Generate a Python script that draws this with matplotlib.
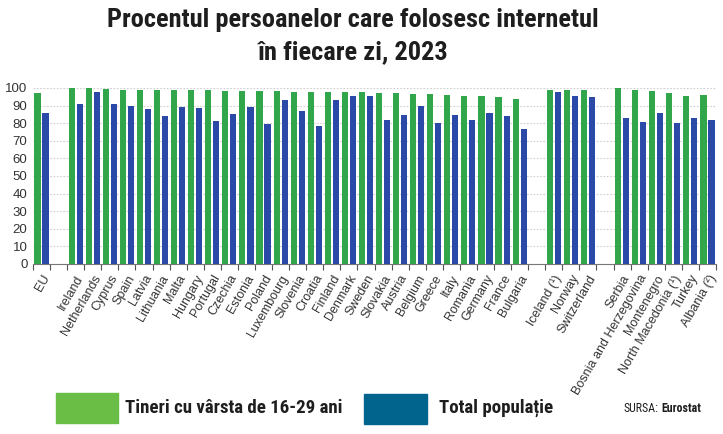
import matplotlib
matplotlib.use("Agg")
import matplotlib.pyplot as plt
from matplotlib.patches import Rectangle

# --- data ---
countries = ["EU", "",
             "Ireland", "Netherlands", "Cyprus", "Spain", "Latvia", "Lithuania",
             "Malta", "Hungary", "Portugal", "Czechia", "Estonia", "Poland",
             "Luxembourg", "Slovenia", "Croatia", "Finland", "Denmark", "Sweden",
             "Slovakia", "Austria", "Belgium", "Greece", "Italy", "Romania",
             "Germany", "France", "Bulgaria", "",
             "Iceland (¹)", "Norway", "Switzerland", "",
             "Serbia", "Bosnia and Herzegovina", "Montenegro",
             "North Macedonia (¹)", "Turkey", "Albania (²)"]
young = [97, None,
         100, 100, 99.5, 99, 99, 99,
         99, 99, 99, 98.5, 98.5, 98.5,
         98.5, 98, 98, 98, 98, 98,
         97, 97, 96.5, 96.5, 96, 95.5,
         95.5, 95, 94, None,
         99, 99, 99, None,
         100, 99, 98.5, 97, 95.5, 96]
total = [86, None,
         91, 98, 91, 90, 88, 84,
         89, 88.5, 81, 85, 89, 79.5,
         93, 87, 78.5, 93, 95.5, 95.5,
         82, 84.5, 90, 80, 84.5, 82,
         86, 84, 76.5, None,
         98, 95.5, 95, None,
         83, 80.5, 86, 80, 83, 82]
y_ticks = list(range(0, 101, 10))

green = "#31a64a"
blue = "#2b49a6"
leg_green = "#6abd45"
leg_blue = "#00648c"
# narrow families first; missing ones are skipped by matplotlib
cond = ["Liberation Sans Narrow", "Roboto Condensed", "Open Sans Condensed",
        "Noto Sans", "Roboto", "DejaVu Sans"]

fig = plt.figure(figsize=(7.23, 4.34), dpi=100)
ax = fig.add_axes([33 / 723, 1 - 264 / 434, (716 - 33) / 723, (264 - 88) / 434])

n = len(countries)
for i in range(n):
    if young[i] is None:
        continue
    ax.bar(i + 0.5 - 0.235, young[i], width=0.36, color=green, zorder=3)
    ax.bar(i + 0.5 + 0.235, total[i], width=0.36, color=blue, zorder=3)

ax.set_xlim(0, n)
ax.set_ylim(0, 100)
ax.set_yticks(y_ticks)
ax.set_yticklabels([str(t) for t in y_ticks], fontsize=9.5, color="#333333",
                   family="Liberation Sans")
ax.tick_params(axis="y", length=0, pad=4)
ax.yaxis.grid(True, linestyle=(0, (1.5, 1.5)), color="#cfcfcf", linewidth=0.8, zorder=0)

# ticks at slot boundaries, labels at slot centres
ax.set_xticks(range(n + 1))
ax.set_xticklabels([])
ax.tick_params(axis="x", length=4, width=0.8, color="#555555", direction="out")
for i, name in enumerate(countries):
    if name:
        ax.text(i + 0.5, -5, name, rotation=60, ha="right", va="top",
                rotation_mode="anchor", fontsize=9, color="#333333",
                family="Liberation Sans", clip_on=False)

for side in ["top", "right", "left"]:
    ax.spines[side].set_visible(False)
ax.spines["bottom"].set_color("#777777")
ax.spines["bottom"].set_linewidth(0.8)

kw = dict(color="#1e1e1e", family=cond, fontstretch="condensed")
t1 = fig.text(353 / 723, 1 - 20 / 434, "Procentul persoanelor care folosesc internetul",
              ha="center", va="center", fontsize=18, fontweight="black", **kw)
t2 = fig.text(353 / 723, 1 - 52 / 434, "în fiecare zi, 2023",
              ha="center", va="center", fontsize=18, fontweight="black", **kw)

# legend
fig.patches.append(Rectangle((56 / 723, 1 - 423 / 434), 62 / 723, 30 / 434,
                             transform=fig.transFigure, color=leg_green))
l1 = fig.text(125 / 723, 1 - 408 / 434, "Tineri cu vârsta de 16-29 ani", ha="left",
              va="center", fontsize=13.5, fontweight="bold", **kw)
fig.patches.append(Rectangle((364 / 723, 1 - 424 / 434), 63 / 723, 30 / 434,
                             transform=fig.transFigure, color=leg_blue))
l2 = fig.text(439 / 723, 1 - 408 / 434, "Total populație", ha="left",
              va="center", fontsize=13.5, fontweight="bold", **kw)
s1 = fig.text(624 / 723, 1 - 408 / 434, "SURSA:", ha="left", va="center",
              fontsize=9, **kw)
s2 = fig.text(662 / 723, 1 - 408 / 434, "Eurostat", ha="left", va="center",
              fontsize=9, fontweight="bold", **kw)

# shrink/grow the condensed texts to the widths seen in the reference
fig.canvas.draw()
r = fig.canvas.get_renderer()


def fit(txt, width_px, max_size):
    w = txt.get_window_extent(r).width
    txt.set_fontsize(min(max_size, txt.get_fontsize() * width_px / w))


fit(t1, 507, 19)
t2.set_fontsize(t1.get_fontsize())
fit(l1, 218, 15)
l2.set_fontsize(l1.get_fontsize())
fit(s1, 35, 10)
s2.set_fontsize(s1.get_fontsize())
fig.canvas.draw()
x_end = s1.get_window_extent(r).x1
s2.set_x((x_end + 3) / 723)

fig.savefig("out.png", dpi=100)
